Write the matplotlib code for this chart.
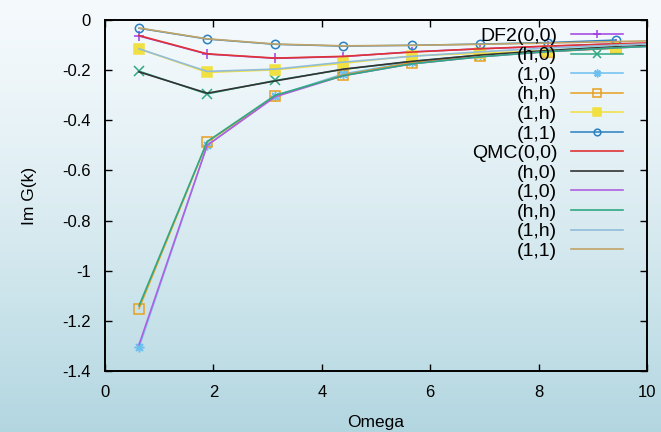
import numpy as np
import matplotlib
matplotlib.use('Agg')
import matplotlib.pyplot as plt

plt.rcParams['font.family'] = ['Liberation Sans', 'DejaVu Sans']

# Matsubara frequencies (beta = 5)
omega = [0.628, 1.885, 3.142, 4.398, 5.655, 6.912, 8.168, 9.425, 10.681]

df2_labels = ['DF2(0,0)', '(h,0)', '(1,0)', '(h,h)', '(1,h)', '(1,1)']
df2_00 = [-0.064, -0.136, -0.153, -0.146, -0.127, -0.115, -0.105, -0.095]
df2_h0 = [-0.204, -0.295, -0.241, -0.197, -0.165, -0.140, -0.121, -0.106]
df2_10 = [-1.306, -0.500, -0.303, -0.215, -0.168, -0.141, -0.125, -0.110]
df2_hh = [-1.151, -0.487, -0.305, -0.219, -0.170, -0.143, -0.126, -0.113]
df2_1h = [-0.115, -0.209, -0.199, -0.173, -0.143, -0.133, -0.122, -0.108]
df2_11 = [-0.033, -0.076, -0.097, -0.104, -0.101, -0.096, -0.090, -0.080]

qmc_labels = ['QMC(0,0)', '(h,0)', '(1,0)', '(h,h)', '(1,h)', '(1,1)']
qmc_00 = [-0.062, -0.135, -0.152, -0.145, -0.128, -0.115, -0.104, -0.095, -0.087]
qmc_h0 = [-0.207, -0.292, -0.243, -0.196, -0.165, -0.140, -0.122, -0.107, -0.096]
qmc_10 = [-1.295, -0.500, -0.306, -0.222, -0.175, -0.147, -0.126, -0.111, -0.099]
qmc_hh = [-1.140, -0.485, -0.300, -0.222, -0.175, -0.147, -0.126, -0.111, -0.099]
qmc_1h = [-0.115, -0.205, -0.196, -0.168, -0.145, -0.127, -0.112, -0.100, -0.090]
qmc_11 = [-0.032, -0.075, -0.096, -0.103, -0.101, -0.097, -0.092, -0.086, -0.080]

df2_series = [df2_00, df2_h0, df2_10, df2_hh, df2_1h, df2_11]
qmc_series = [qmc_00, qmc_h0, qmc_10, qmc_hh, qmc_1h, qmc_11]

df2_colors = ['#a040e0', '#2fa882', '#6cc0f0', '#e8a020', '#f0e040', '#2a80c0']
df2_markers = ['+', 'x', (8, 2, 0), 's', 's', 'o']
df2_fill = [True, True, True, False, True, False]
qmc_colors = ['#e03434', '#333333', '#b060e0', '#30a882', '#92bcd8', '#c0a468']

fig = plt.figure(figsize=(6.61, 4.32), dpi=100)

# slide background gradient
bg = fig.add_axes([0, 0, 1, 1], zorder=-10)
grad = np.linspace(0, 1, 256).reshape(-1, 1)
top = np.array([0.96, 0.98, 0.99])
bottom = np.array([0.70, 0.84, 0.88])
img = top + (bottom - top) * grad[..., None] ** 1.3
bg.imshow(img, aspect='auto', extent=[0, 1, 0, 1])
bg.axis('off')

ax = fig.add_axes([105 / 661, 1 - 371 / 432, 542 / 661, 351 / 432])
ax.patch.set_alpha(0)

for ys, lab, c, m, f in zip(df2_series, df2_labels, df2_colors, df2_markers, df2_fill):
    ax.plot(omega[:len(ys)], ys, color=c, lw=1.1, marker=m, ms=7 if m != 'o' else 6,
            mew=1.1, mfc=c if f else 'none', mec=c, label=lab)

for ys, lab, c in zip(qmc_series, qmc_labels, qmc_colors):
    ax.plot(omega, ys, color=c, lw=1.2, label=lab)

ax.set_xlim(0, 10)
ax.set_ylim(-1.4, 0)
ax.set_xticks([0, 2, 4, 6, 8, 10])
ax.set_yticks([0, -0.2, -0.4, -0.6, -0.8, -1, -1.2, -1.4])
ax.set_yticklabels(['0', '-0.2', '-0.4', '-0.6', '-0.8', '-1', '-1.2', '-1.4'])
ax.tick_params(direction='in', length=5, width=1, top=True, right=True,
               labelsize=12, pad=10)
for s in ax.spines.values():
    s.set_linewidth(1.4)

ax.set_xlabel('Omega', fontsize=12.5, labelpad=11)
ax.set_ylabel('Im G(k)', fontsize=12.5, labelpad=18)

leg = ax.legend(loc='upper right', bbox_to_anchor=(0.96, 0.985), markerfirst=False,
                frameon=False, fontsize=14, handlelength=2.7, handletextpad=0.7,
                labelspacing=0.1, borderaxespad=0, borderpad=0.1, markerscale=0.8)

fig.savefig('out.png', dpi=100)
